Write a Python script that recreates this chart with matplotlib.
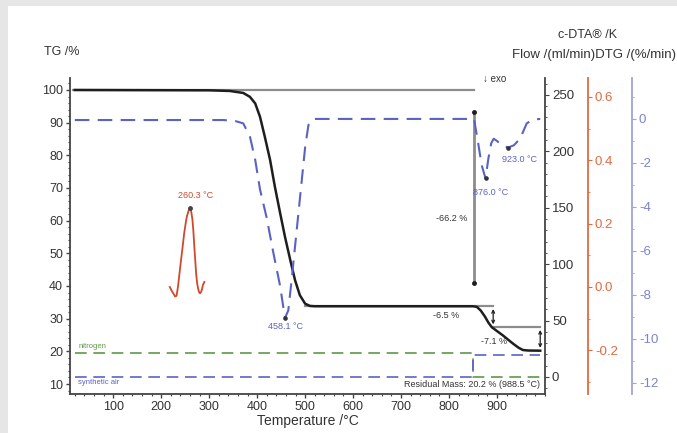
import matplotlib
matplotlib.use("Agg")
import matplotlib.pyplot as plt
from matplotlib.patches import Rectangle
from matplotlib.ticker import MultipleLocator

plt.rcParams['font.family'] = ['Liberation Sans', 'DejaVu Sans']
plt.rcParams['axes.unicode_minus'] = False

# ---------------- data ----------------
tg_temp = [20, 300, 343, 371, 385, 396, 406, 416, 427, 437, 448, 458, 469, 479, 489,
           500, 510, 520, 850, 858, 866, 875, 882, 889, 900, 912, 922, 933, 945, 954, 965, 990]
tg_mass = [100, 99.9, 99.7, 99.1, 97.9, 95.9, 91.8, 85.7, 78.6, 70.4, 62.3, 55.1, 48.0, 41.8, 37.2,
           34.6, 33.9, 33.8, 33.8, 33.6, 32.5, 30.6, 28.8, 27.4, 26.2, 24.9, 23.7, 22.4, 21.1, 20.4, 20.25, 20.2]

dtg_temp = [20, 330, 355, 371, 385, 396, 406, 420, 434, 448, 458, 465, 472, 479, 486, 493, 500,
            507, 517, 530, 852, 860, 868, 876, 882, 888, 893, 900, 910, 923, 935, 948, 962, 975, 990]
dtg_rate = [-0.05, -0.05, -0.1, -0.2, -0.8, -1.86, -3.2, -4.5, -6.1, -7.6, -9.05, -8.7, -7.3, -5.8, -4.3, -2.8, -1.3,
            -0.27, 0.0, 0.0, 0.0, -1.0, -2.1, -2.7, -1.8, -1.1, -0.9, -1.0, -1.2, -1.3, -1.2, -0.9, -0.2, -0.03, 0.0]

dta_temp = [218, 222, 226, 229, 232, 235, 238, 241, 245, 248, 252, 254, 257, 258.5, 260, 261.5, 263,
            265, 267, 269, 271, 273, 275, 277, 279, 281, 283, 285, 287, 289, 290]
dta_val = [0.0, -0.012, -0.022, -0.03, -0.028, 0.0, 0.04, 0.08, 0.13, 0.17, 0.21, 0.225, 0.24, 0.245, 0.248,
           0.245, 0.235, 0.215, 0.18, 0.13, 0.085, 0.04, 0.012, -0.005, -0.016, -0.02, -0.016, -0.008, 0.006,
           0.012, 0.016]

flow_temp = [20, 850, 850, 990]
flow_nitrogen = [21.2, 21.2, 0.0, 0.0]
flow_air = [0.0, 0.0, 19.5, 19.5]

peak_dta = (260.3, 0.248)
peak_dtg = [(458.1, -9.05), (876.0, -2.7), (923.0, -1.3)]
step_start = 852
step1_top, step1_bot = 93.3, 40.9
plateau1 = 33.8
plateau2 = 27.4
residual = 20.2
step2_temp = 892
step3_temp = 990

# ---------------- colours ----------------
c_black = '#1e1e1e'
c_gray = '#8c8c8c'
c_blue = '#5b63c2'
c_blue_axis = '#9ea3da'
c_red = '#d2482c'
c_orange = '#e06a40'
c_green = '#5f9a45'
c_text = '#333333'

W, H = 677, 433
fig = plt.figure(figsize=(W / 100, H / 100), dpi=100, facecolor='white')
fig.patches.append(Rectangle((0, 0), 8 / W, 1, transform=fig.transFigure,
                             facecolor='#e6e6e6', edgecolor='none', zorder=-5))
fig.patches.append(Rectangle((0, 1 - 6 / H), 1, 6 / H, transform=fig.transFigure,
                             facecolor='#e6e6e6', edgecolor='none', zorder=-5))

L, R, T, B = 70, 545, 78, 394
ax = fig.add_axes([L / W, 1 - B / H, (R - L) / W, (B - T) / H])
ax.patch.set_alpha(0)

# main axis (TG)
ax.set_xlim(10, 1000)
ax.set_ylim(6.94, 103.67)
for s in ['top', 'right']:
    ax.spines[s].set_visible(False)
for s in ['left', 'bottom']:
    ax.spines[s].set_color('#444444')
    ax.spines[s].set_linewidth(1.3)
ax.xaxis.set_minor_locator(MultipleLocator(20))
ax.yaxis.set_minor_locator(MultipleLocator(2))
ax.set_xticks(range(100, 1000, 100))
ax.set_yticks(range(10, 101, 10))
ax.tick_params(axis='both', which='major', direction='out', length=3, width=1, colors='#444444',
               labelsize=9, labelcolor=c_text, pad=2)
ax.tick_params(axis='both', which='minor', direction='out', length=1.5, width=0.8, colors='#444444')
ax.set_xlabel('Temperature /°C', fontsize=10, color=c_text, labelpad=1)

# Flow axis (right, black)
axf = ax.twinx()
axf.set_ylim(-15.1, 265)
axf.patch.set_alpha(0)
for s in ['top', 'left', 'bottom']:
    axf.spines[s].set_visible(False)
axf.spines['right'].set_color('#444444')
axf.spines['right'].set_linewidth(1.3)
axf.yaxis.set_minor_locator(MultipleLocator(10))
axf.set_yticks(range(0, 251, 50))
axf.tick_params(axis='y', which='major', direction='out', length=3, colors='#444444',
                labelsize=9.5, labelcolor=c_text, pad=2)
axf.tick_params(axis='y', which='minor', direction='out', length=1.5, colors='#444444')

# c-DTA axis (orange)
axd = ax.twinx()
axd.set_ylim(-0.338, 0.66)
axd.patch.set_alpha(0)
for s in ['top', 'left', 'bottom']:
    axd.spines[s].set_visible(False)
axd.spines['right'].set_position(('axes', (588 - L) / (R - L)))
axd.spines['right'].set_color(c_orange)
axd.spines['right'].set_linewidth(1.3)
axd.yaxis.set_minor_locator(MultipleLocator(0.1))
axd.set_yticks([-0.2, 0.0, 0.2, 0.4, 0.6])
axd.set_yticklabels(['-0.2', '0.0', '0.2', '0.4', '0.6'])
axd.tick_params(axis='y', which='major', direction='out', length=3, colors=c_orange,
                labelsize=9.5, labelcolor=c_orange, pad=2)
axd.tick_params(axis='y', which='minor', direction='out', length=1.5, colors=c_orange)

# DTG axis (blue)
axg = ax.twinx()
axg.set_ylim(-12.5, 1.86)
axg.patch.set_alpha(0)
for s in ['top', 'left', 'bottom']:
    axg.spines[s].set_visible(False)
axg.spines['right'].set_position(('axes', (632 - L) / (R - L)))
axg.spines['right'].set_color(c_blue_axis)
axg.spines['right'].set_linewidth(1.3)
axg.yaxis.set_minor_locator(MultipleLocator(1))
axg.set_yticks(range(-12, 1, 2))
axg.tick_params(axis='y', which='major', direction='out', length=3, colors=c_blue_axis,
                labelsize=9.5, labelcolor='#7d84cc', pad=2)
axg.tick_params(axis='y', which='minor', direction='out', length=1.5, colors=c_blue_axis)

# ---------------- curves ----------------
ax.plot([16, step_start], [100, 100], color=c_gray, lw=1.6, zorder=2)
ax.plot([step_start, step_start], [step1_top, step1_bot], color=c_gray, lw=2.0, zorder=2)
ax.plot([step_start], [step1_bot], 'o', color=c_black, ms=2.5, zorder=5)
ax.plot([step_start], [step1_top], 'o', color=c_black, ms=2.5, zorder=5)
ax.plot([500, step2_temp], [plateau1, plateau1], color=c_gray, lw=1.6, zorder=2)
ax.plot([step2_temp, step3_temp], [plateau2, plateau2], color=c_gray, lw=1.6, zorder=2)
ax.annotate('', xy=(step2_temp, plateau2), xytext=(step2_temp, plateau1),
            arrowprops=dict(arrowstyle='<->', color=c_black, lw=0.9, mutation_scale=5), zorder=5)
ax.annotate('', xy=(step3_temp, residual), xytext=(step3_temp, plateau2),
            arrowprops=dict(arrowstyle='<->', color=c_black, lw=0.9, mutation_scale=5), zorder=5)

ax.plot(tg_temp, tg_mass, color=c_black, lw=1.8, zorder=4, solid_joinstyle='round')

axf.plot(flow_temp, flow_nitrogen, color=c_green, lw=1.2, dashes=(7, 4))
axf.plot(flow_temp, flow_air, color=c_blue, lw=1.2, dashes=(7, 4))

axd.plot(dta_temp, dta_val, color=c_red, lw=1.3, solid_joinstyle='round')
axd.plot([peak_dta[0]], [peak_dta[1]], 'o', color='#444444', ms=2.5)

axg.plot(dtg_temp, dtg_rate, color=c_blue, lw=1.5, dashes=(7, 4))
for px, py in peak_dtg:
    axg.plot([px], [py], 'o', color='#333333', ms=2.3)

# ---------------- annotations ----------------
fs_small = 6.5
ax.text(272, 67.6, '260.3 °C', color=c_red, fontsize=fs_small, ha='center', va='center')
ax.text(460, 27.5, '458.1 °C', color=c_blue, fontsize=fs_small, ha='center', va='center')
ax.text(887, 68.5, '876.0 °C', color=c_blue, fontsize=fs_small, ha='center', va='center')
ax.text(946, 78.6, '923.0 °C', color=c_blue, fontsize=fs_small, ha='center', va='center')
ax.text(806, 60.8, '-66.2 %', color=c_text, fontsize=fs_small, ha='center', va='center')
ax.text(794, 31.1, '-6.5 %', color=c_text, fontsize=fs_small, ha='center', va='center')
ax.text(894, 22.9, '-7.1 %', color=c_text, fontsize=fs_small, ha='center', va='center')
ax.text(990, 9.7, 'Residual Mass: 20.2 % (988.5 °C)', color=c_text, fontsize=fs_small,
        ha='right', va='center')
ax.text(27, 21.6, 'nitrogen', color=c_green, fontsize=5.5, ha='left', va='center')
ax.text(27, 10.6, 'synthetic air', color=c_blue, fontsize=5.5, ha='left', va='center')
ax.text(870, 103.4, '↓ exo', color=c_text, fontsize=7, ha='left', va='center', clip_on=False)

fig.text(44 / W, 1 - 52 / H, 'TG /%', fontsize=9, color=c_text, ha='left', va='center')
fig.text(587 / W, 1 - 35 / H, 'c-DTA® /K', fontsize=9, color=c_text, ha='center', va='center')
fig.text(676 / W, 1 - 55 / H, 'Flow /(ml/min)DTG /(%/min)', fontsize=9.5, color=c_text,
         ha='right', va='center')

fig.savefig('out.png', dpi=100, facecolor=fig.get_facecolor())
